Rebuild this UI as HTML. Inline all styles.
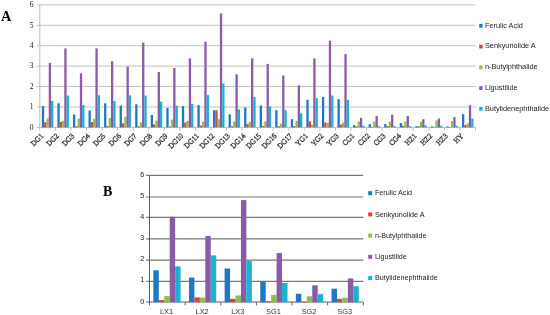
<!DOCTYPE html>
<html><head><meta charset="utf-8"><style>
html,body{margin:0;padding:0;background:#fff;}
body{width:550px;height:315px;overflow:hidden;position:relative;font-family:"Liberation Sans",sans-serif;}
svg{position:absolute;left:0;top:0;}
</style></head><body>
<svg width="550" height="315" viewBox="0 0 550 315" shape-rendering="geometricPrecision">
<rect x="0" y="0" width="550" height="315" fill="#fff"/>
<line x1="36.80" y1="127.40" x2="475.50" y2="127.40" stroke="#bcbcbc" stroke-width="1"/>
<line x1="36.80" y1="106.98" x2="475.50" y2="106.98" stroke="#c2c2c2" stroke-width="1"/>
<line x1="36.80" y1="86.56" x2="475.50" y2="86.56" stroke="#c2c2c2" stroke-width="1"/>
<line x1="36.80" y1="66.14" x2="475.50" y2="66.14" stroke="#c2c2c2" stroke-width="1"/>
<line x1="36.80" y1="45.72" x2="475.50" y2="45.72" stroke="#c2c2c2" stroke-width="1"/>
<line x1="36.80" y1="25.30" x2="475.50" y2="25.30" stroke="#c2c2c2" stroke-width="1"/>
<line x1="36.80" y1="4.88" x2="475.50" y2="4.88" stroke="#c2c2c2" stroke-width="1"/>
<line x1="39.80" y1="4.88" x2="39.80" y2="130.60" stroke="#bcbcbc" stroke-width="1"/>
<line x1="55.36" y1="127.40" x2="55.36" y2="130.60" stroke="#bcbcbc" stroke-width="1"/>
<line x1="70.92" y1="127.40" x2="70.92" y2="130.60" stroke="#bcbcbc" stroke-width="1"/>
<line x1="86.48" y1="127.40" x2="86.48" y2="130.60" stroke="#bcbcbc" stroke-width="1"/>
<line x1="102.04" y1="127.40" x2="102.04" y2="130.60" stroke="#bcbcbc" stroke-width="1"/>
<line x1="117.60" y1="127.40" x2="117.60" y2="130.60" stroke="#bcbcbc" stroke-width="1"/>
<line x1="133.16" y1="127.40" x2="133.16" y2="130.60" stroke="#bcbcbc" stroke-width="1"/>
<line x1="148.72" y1="127.40" x2="148.72" y2="130.60" stroke="#bcbcbc" stroke-width="1"/>
<line x1="164.29" y1="127.40" x2="164.29" y2="130.60" stroke="#bcbcbc" stroke-width="1"/>
<line x1="179.85" y1="127.40" x2="179.85" y2="130.60" stroke="#bcbcbc" stroke-width="1"/>
<line x1="195.41" y1="127.40" x2="195.41" y2="130.60" stroke="#bcbcbc" stroke-width="1"/>
<line x1="210.97" y1="127.40" x2="210.97" y2="130.60" stroke="#bcbcbc" stroke-width="1"/>
<line x1="226.53" y1="127.40" x2="226.53" y2="130.60" stroke="#bcbcbc" stroke-width="1"/>
<line x1="242.09" y1="127.40" x2="242.09" y2="130.60" stroke="#bcbcbc" stroke-width="1"/>
<line x1="257.65" y1="127.40" x2="257.65" y2="130.60" stroke="#bcbcbc" stroke-width="1"/>
<line x1="273.21" y1="127.40" x2="273.21" y2="130.60" stroke="#bcbcbc" stroke-width="1"/>
<line x1="288.77" y1="127.40" x2="288.77" y2="130.60" stroke="#bcbcbc" stroke-width="1"/>
<line x1="304.33" y1="127.40" x2="304.33" y2="130.60" stroke="#bcbcbc" stroke-width="1"/>
<line x1="319.89" y1="127.40" x2="319.89" y2="130.60" stroke="#bcbcbc" stroke-width="1"/>
<line x1="335.45" y1="127.40" x2="335.45" y2="130.60" stroke="#bcbcbc" stroke-width="1"/>
<line x1="351.01" y1="127.40" x2="351.01" y2="130.60" stroke="#bcbcbc" stroke-width="1"/>
<line x1="366.57" y1="127.40" x2="366.57" y2="130.60" stroke="#bcbcbc" stroke-width="1"/>
<line x1="382.14" y1="127.40" x2="382.14" y2="130.60" stroke="#bcbcbc" stroke-width="1"/>
<line x1="397.70" y1="127.40" x2="397.70" y2="130.60" stroke="#bcbcbc" stroke-width="1"/>
<line x1="413.26" y1="127.40" x2="413.26" y2="130.60" stroke="#bcbcbc" stroke-width="1"/>
<line x1="428.82" y1="127.40" x2="428.82" y2="130.60" stroke="#bcbcbc" stroke-width="1"/>
<line x1="444.38" y1="127.40" x2="444.38" y2="130.60" stroke="#bcbcbc" stroke-width="1"/>
<line x1="459.94" y1="127.40" x2="459.94" y2="130.60" stroke="#bcbcbc" stroke-width="1"/>
<line x1="475.50" y1="127.40" x2="475.50" y2="130.60" stroke="#bcbcbc" stroke-width="1"/>
<rect x="41.83" y="106.16" width="2.30" height="21.24" fill="#1f78c2"/>
<rect x="44.13" y="122.30" width="2.30" height="5.11" fill="#e0413b"/>
<rect x="46.43" y="118.42" width="2.30" height="8.98" fill="#8dbf4a"/>
<rect x="48.73" y="62.87" width="2.30" height="64.53" fill="#8a5ca8"/>
<rect x="51.03" y="100.85" width="2.30" height="26.55" fill="#1ab2cf"/>
<rect x="57.39" y="103.30" width="2.30" height="24.10" fill="#1f78c2"/>
<rect x="59.69" y="121.89" width="2.30" height="5.51" fill="#e0413b"/>
<rect x="61.99" y="120.66" width="2.30" height="6.74" fill="#8dbf4a"/>
<rect x="64.29" y="48.37" width="2.30" height="79.03" fill="#8a5ca8"/>
<rect x="66.59" y="95.54" width="2.30" height="31.86" fill="#1ab2cf"/>
<rect x="72.95" y="114.54" width="2.30" height="12.86" fill="#1f78c2"/>
<rect x="75.25" y="126.17" width="2.30" height="1.23" fill="#e0413b"/>
<rect x="77.55" y="118.62" width="2.30" height="8.78" fill="#8dbf4a"/>
<rect x="79.85" y="73.29" width="2.30" height="54.11" fill="#8a5ca8"/>
<rect x="82.15" y="104.94" width="2.30" height="22.46" fill="#1ab2cf"/>
<rect x="88.51" y="110.45" width="2.30" height="16.95" fill="#1f78c2"/>
<rect x="90.81" y="122.09" width="2.30" height="5.31" fill="#e0413b"/>
<rect x="93.11" y="118.62" width="2.30" height="8.78" fill="#8dbf4a"/>
<rect x="95.41" y="48.37" width="2.30" height="79.03" fill="#8a5ca8"/>
<rect x="97.71" y="95.34" width="2.30" height="32.06" fill="#1ab2cf"/>
<rect x="104.07" y="103.30" width="2.30" height="24.10" fill="#1f78c2"/>
<rect x="106.37" y="126.17" width="2.30" height="1.23" fill="#e0413b"/>
<rect x="108.67" y="118.01" width="2.30" height="9.39" fill="#8dbf4a"/>
<rect x="110.97" y="61.24" width="2.30" height="66.16" fill="#8a5ca8"/>
<rect x="113.27" y="101.06" width="2.30" height="26.34" fill="#1ab2cf"/>
<rect x="119.63" y="105.55" width="2.30" height="21.85" fill="#1f78c2"/>
<rect x="121.93" y="123.32" width="2.30" height="4.08" fill="#e0413b"/>
<rect x="124.23" y="116.78" width="2.30" height="10.62" fill="#8dbf4a"/>
<rect x="126.53" y="66.55" width="2.30" height="60.85" fill="#8a5ca8"/>
<rect x="128.83" y="95.34" width="2.30" height="32.06" fill="#1ab2cf"/>
<rect x="135.19" y="104.33" width="2.30" height="23.07" fill="#1f78c2"/>
<rect x="137.49" y="126.38" width="2.30" height="1.02" fill="#e0413b"/>
<rect x="139.79" y="122.50" width="2.30" height="4.90" fill="#8dbf4a"/>
<rect x="142.09" y="42.66" width="2.30" height="84.74" fill="#8a5ca8"/>
<rect x="144.39" y="95.54" width="2.30" height="31.86" fill="#1ab2cf"/>
<rect x="150.76" y="114.94" width="2.30" height="12.46" fill="#1f78c2"/>
<rect x="153.06" y="124.34" width="2.30" height="3.06" fill="#e0413b"/>
<rect x="155.36" y="120.46" width="2.30" height="6.94" fill="#8dbf4a"/>
<rect x="157.66" y="72.06" width="2.30" height="55.34" fill="#8a5ca8"/>
<rect x="159.96" y="101.67" width="2.30" height="25.73" fill="#1ab2cf"/>
<rect x="166.32" y="107.80" width="2.30" height="19.60" fill="#1f78c2"/>
<rect x="168.62" y="126.58" width="2.30" height="0.82" fill="#e0413b"/>
<rect x="170.92" y="119.64" width="2.30" height="7.76" fill="#8dbf4a"/>
<rect x="173.22" y="67.98" width="2.30" height="59.42" fill="#8a5ca8"/>
<rect x="175.52" y="105.55" width="2.30" height="21.85" fill="#1ab2cf"/>
<rect x="181.88" y="106.16" width="2.30" height="21.24" fill="#1f78c2"/>
<rect x="184.18" y="122.50" width="2.30" height="4.90" fill="#e0413b"/>
<rect x="186.48" y="120.87" width="2.30" height="6.53" fill="#8dbf4a"/>
<rect x="188.78" y="58.38" width="2.30" height="69.02" fill="#8a5ca8"/>
<rect x="191.08" y="103.92" width="2.30" height="23.48" fill="#1ab2cf"/>
<rect x="197.44" y="105.14" width="2.30" height="22.26" fill="#1f78c2"/>
<rect x="199.74" y="125.56" width="2.30" height="1.84" fill="#e0413b"/>
<rect x="202.04" y="121.48" width="2.30" height="5.92" fill="#8dbf4a"/>
<rect x="204.34" y="41.64" width="2.30" height="85.76" fill="#8a5ca8"/>
<rect x="206.64" y="95.14" width="2.30" height="32.26" fill="#1ab2cf"/>
<rect x="213.00" y="110.25" width="2.30" height="17.15" fill="#1f78c2"/>
<rect x="215.30" y="110.25" width="2.30" height="17.15" fill="#e0413b"/>
<rect x="217.60" y="119.23" width="2.30" height="8.17" fill="#8dbf4a"/>
<rect x="219.90" y="13.46" width="2.30" height="113.94" fill="#8a5ca8"/>
<rect x="222.20" y="83.50" width="2.30" height="43.90" fill="#1ab2cf"/>
<rect x="228.56" y="114.33" width="2.30" height="13.07" fill="#1f78c2"/>
<rect x="230.86" y="126.17" width="2.30" height="1.23" fill="#e0413b"/>
<rect x="233.16" y="121.48" width="2.30" height="5.92" fill="#8dbf4a"/>
<rect x="235.46" y="74.31" width="2.30" height="53.09" fill="#8a5ca8"/>
<rect x="237.76" y="109.43" width="2.30" height="17.97" fill="#1ab2cf"/>
<rect x="244.12" y="107.59" width="2.30" height="19.81" fill="#1f78c2"/>
<rect x="246.42" y="123.93" width="2.30" height="3.47" fill="#e0413b"/>
<rect x="248.72" y="121.89" width="2.30" height="5.51" fill="#8dbf4a"/>
<rect x="251.02" y="58.38" width="2.30" height="69.02" fill="#8a5ca8"/>
<rect x="253.32" y="96.97" width="2.30" height="30.43" fill="#1ab2cf"/>
<rect x="259.68" y="105.55" width="2.30" height="21.85" fill="#1f78c2"/>
<rect x="261.98" y="126.17" width="2.30" height="1.23" fill="#e0413b"/>
<rect x="264.28" y="121.48" width="2.30" height="5.92" fill="#8dbf4a"/>
<rect x="266.58" y="63.89" width="2.30" height="63.51" fill="#8a5ca8"/>
<rect x="268.88" y="106.37" width="2.30" height="21.03" fill="#1ab2cf"/>
<rect x="275.24" y="110.25" width="2.30" height="17.15" fill="#1f78c2"/>
<rect x="277.54" y="126.17" width="2.30" height="1.23" fill="#e0413b"/>
<rect x="279.84" y="123.72" width="2.30" height="3.68" fill="#8dbf4a"/>
<rect x="282.14" y="75.53" width="2.30" height="51.87" fill="#8a5ca8"/>
<rect x="284.44" y="110.25" width="2.30" height="17.15" fill="#1ab2cf"/>
<rect x="290.80" y="119.23" width="2.30" height="8.17" fill="#1f78c2"/>
<rect x="293.10" y="126.17" width="2.30" height="1.23" fill="#e0413b"/>
<rect x="295.40" y="120.87" width="2.30" height="6.53" fill="#8dbf4a"/>
<rect x="297.70" y="85.33" width="2.30" height="42.07" fill="#8a5ca8"/>
<rect x="300.00" y="113.31" width="2.30" height="14.09" fill="#1ab2cf"/>
<rect x="306.36" y="99.83" width="2.30" height="27.57" fill="#1f78c2"/>
<rect x="308.66" y="121.27" width="2.30" height="6.13" fill="#e0413b"/>
<rect x="310.96" y="124.54" width="2.30" height="2.86" fill="#8dbf4a"/>
<rect x="313.26" y="58.38" width="2.30" height="69.02" fill="#8a5ca8"/>
<rect x="315.56" y="98.20" width="2.30" height="29.20" fill="#1ab2cf"/>
<rect x="321.92" y="96.97" width="2.30" height="30.43" fill="#1f78c2"/>
<rect x="324.22" y="122.50" width="2.30" height="4.90" fill="#e0413b"/>
<rect x="326.52" y="122.91" width="2.30" height="4.49" fill="#8dbf4a"/>
<rect x="328.82" y="40.61" width="2.30" height="86.79" fill="#8a5ca8"/>
<rect x="331.12" y="95.54" width="2.30" height="31.86" fill="#1ab2cf"/>
<rect x="337.48" y="99.22" width="2.30" height="28.18" fill="#1f78c2"/>
<rect x="339.78" y="124.54" width="2.30" height="2.86" fill="#e0413b"/>
<rect x="342.08" y="122.50" width="2.30" height="4.90" fill="#8dbf4a"/>
<rect x="344.38" y="54.09" width="2.30" height="73.31" fill="#8a5ca8"/>
<rect x="346.68" y="99.83" width="2.30" height="27.57" fill="#1ab2cf"/>
<rect x="353.04" y="125.15" width="2.30" height="2.25" fill="#1f78c2"/>
<rect x="355.34" y="126.38" width="2.30" height="1.02" fill="#e0413b"/>
<rect x="357.64" y="121.48" width="2.30" height="5.92" fill="#8dbf4a"/>
<rect x="359.94" y="117.80" width="2.30" height="9.60" fill="#8a5ca8"/>
<rect x="362.24" y="125.77" width="2.30" height="1.63" fill="#1ab2cf"/>
<rect x="368.61" y="124.13" width="2.30" height="3.27" fill="#1f78c2"/>
<rect x="370.91" y="126.99" width="2.30" height="0.41" fill="#e0413b"/>
<rect x="373.21" y="121.48" width="2.30" height="5.92" fill="#8dbf4a"/>
<rect x="375.51" y="115.96" width="2.30" height="11.44" fill="#8a5ca8"/>
<rect x="377.81" y="126.17" width="2.30" height="1.23" fill="#1ab2cf"/>
<rect x="384.17" y="124.13" width="2.30" height="3.27" fill="#1f78c2"/>
<rect x="386.47" y="126.17" width="2.30" height="1.23" fill="#e0413b"/>
<rect x="388.77" y="121.48" width="2.30" height="5.92" fill="#8dbf4a"/>
<rect x="391.07" y="114.74" width="2.30" height="12.66" fill="#8a5ca8"/>
<rect x="393.37" y="126.17" width="2.30" height="1.23" fill="#1ab2cf"/>
<rect x="399.73" y="123.11" width="2.30" height="4.29" fill="#1f78c2"/>
<rect x="402.03" y="125.77" width="2.30" height="1.63" fill="#e0413b"/>
<rect x="404.33" y="121.48" width="2.30" height="5.92" fill="#8dbf4a"/>
<rect x="406.63" y="115.96" width="2.30" height="11.44" fill="#8a5ca8"/>
<rect x="408.93" y="126.17" width="2.30" height="1.23" fill="#1ab2cf"/>
<rect x="415.29" y="126.17" width="2.30" height="1.23" fill="#1f78c2"/>
<rect x="417.59" y="126.38" width="2.30" height="1.02" fill="#e0413b"/>
<rect x="419.89" y="121.68" width="2.30" height="5.72" fill="#8dbf4a"/>
<rect x="422.19" y="119.23" width="2.30" height="8.17" fill="#8a5ca8"/>
<rect x="424.49" y="125.36" width="2.30" height="2.04" fill="#1ab2cf"/>
<rect x="430.85" y="126.38" width="2.30" height="1.02" fill="#1f78c2"/>
<rect x="433.15" y="126.99" width="2.30" height="0.41" fill="#e0413b"/>
<rect x="435.45" y="120.46" width="2.30" height="6.94" fill="#8dbf4a"/>
<rect x="437.75" y="118.62" width="2.30" height="8.78" fill="#8a5ca8"/>
<rect x="440.05" y="125.77" width="2.30" height="1.63" fill="#1ab2cf"/>
<rect x="446.41" y="126.38" width="2.30" height="1.02" fill="#1f78c2"/>
<rect x="448.71" y="126.99" width="2.30" height="0.41" fill="#e0413b"/>
<rect x="451.01" y="121.07" width="2.30" height="6.33" fill="#8dbf4a"/>
<rect x="453.31" y="117.19" width="2.30" height="10.21" fill="#8a5ca8"/>
<rect x="455.61" y="125.77" width="2.30" height="1.63" fill="#1ab2cf"/>
<rect x="461.97" y="114.13" width="2.30" height="13.27" fill="#1f78c2"/>
<rect x="464.27" y="124.95" width="2.30" height="2.45" fill="#e0413b"/>
<rect x="466.57" y="123.32" width="2.30" height="4.08" fill="#8dbf4a"/>
<rect x="468.87" y="105.14" width="2.30" height="22.26" fill="#8a5ca8"/>
<rect x="471.17" y="118.62" width="2.30" height="8.78" fill="#1ab2cf"/>
<rect x="479.20" y="23.90" width="3.40" height="3.80" fill="#1f78c2"/>
<rect x="479.20" y="44.65" width="3.40" height="3.80" fill="#e0413b"/>
<rect x="479.20" y="65.40" width="3.40" height="3.80" fill="#8dbf4a"/>
<rect x="479.20" y="86.15" width="3.40" height="3.80" fill="#8a5ca8"/>
<rect x="479.20" y="106.90" width="3.40" height="3.80" fill="#1ab2cf"/>
<line x1="146.10" y1="302.00" x2="363.30" y2="302.00" stroke="#5e5e5e" stroke-width="1.15"/>
<line x1="146.10" y1="281.30" x2="363.30" y2="281.30" stroke="#787878" stroke-width="1.15"/>
<line x1="146.10" y1="260.10" x2="363.30" y2="260.10" stroke="#787878" stroke-width="1.15"/>
<line x1="146.10" y1="238.90" x2="363.30" y2="238.90" stroke="#787878" stroke-width="1.15"/>
<line x1="146.10" y1="217.40" x2="363.30" y2="217.40" stroke="#787878" stroke-width="1.15"/>
<line x1="146.10" y1="197.00" x2="363.30" y2="197.00" stroke="#787878" stroke-width="1.15"/>
<line x1="146.10" y1="175.40" x2="363.30" y2="175.40" stroke="#787878" stroke-width="1.15"/>
<line x1="149.50" y1="175.60" x2="149.50" y2="305.40" stroke="#5e5e5e" stroke-width="1"/>
<line x1="185.13" y1="302.20" x2="185.13" y2="305.40" stroke="#5e5e5e" stroke-width="1"/>
<line x1="220.77" y1="302.20" x2="220.77" y2="305.40" stroke="#5e5e5e" stroke-width="1"/>
<line x1="256.40" y1="302.20" x2="256.40" y2="305.40" stroke="#5e5e5e" stroke-width="1"/>
<line x1="292.03" y1="302.20" x2="292.03" y2="305.40" stroke="#5e5e5e" stroke-width="1"/>
<line x1="327.67" y1="302.20" x2="327.67" y2="305.40" stroke="#5e5e5e" stroke-width="1"/>
<line x1="363.30" y1="302.20" x2="363.30" y2="305.40" stroke="#5e5e5e" stroke-width="1"/>
<rect x="153.34" y="270.34" width="5.45" height="31.86" fill="#1f78c2"/>
<rect x="158.79" y="300.09" width="5.45" height="2.11" fill="#e0413b"/>
<rect x="164.24" y="296.08" width="5.45" height="6.12" fill="#8dbf4a"/>
<rect x="169.69" y="216.75" width="5.45" height="85.45" fill="#8a5ca8"/>
<rect x="175.14" y="266.33" width="5.45" height="35.87" fill="#1ab2cf"/>
<rect x="188.97" y="277.51" width="5.45" height="24.69" fill="#1f78c2"/>
<rect x="194.42" y="297.35" width="5.45" height="4.85" fill="#e0413b"/>
<rect x="199.88" y="297.56" width="5.45" height="4.64" fill="#8dbf4a"/>
<rect x="205.32" y="235.95" width="5.45" height="66.25" fill="#8a5ca8"/>
<rect x="210.78" y="255.36" width="5.45" height="46.84" fill="#1ab2cf"/>
<rect x="224.61" y="268.44" width="5.45" height="33.76" fill="#1f78c2"/>
<rect x="230.06" y="298.82" width="5.45" height="3.38" fill="#e0413b"/>
<rect x="235.51" y="295.45" width="5.45" height="6.75" fill="#8dbf4a"/>
<rect x="240.96" y="200.08" width="5.45" height="102.12" fill="#8a5ca8"/>
<rect x="246.41" y="260.84" width="5.45" height="41.36" fill="#1ab2cf"/>
<rect x="260.24" y="281.31" width="5.45" height="20.89" fill="#1f78c2"/>
<rect x="265.69" y="301.36" width="5.45" height="0.84" fill="#e0413b"/>
<rect x="271.14" y="294.81" width="5.45" height="7.38" fill="#8dbf4a"/>
<rect x="276.59" y="253.04" width="5.45" height="49.16" fill="#8a5ca8"/>
<rect x="282.04" y="283.00" width="5.45" height="19.20" fill="#1ab2cf"/>
<rect x="295.88" y="293.76" width="5.45" height="8.44" fill="#1f78c2"/>
<rect x="301.32" y="301.57" width="5.45" height="0.63" fill="#e0413b"/>
<rect x="306.77" y="296.29" width="5.45" height="5.91" fill="#8dbf4a"/>
<rect x="312.23" y="285.32" width="5.45" height="16.88" fill="#8a5ca8"/>
<rect x="317.68" y="294.18" width="5.45" height="8.02" fill="#1ab2cf"/>
<rect x="331.51" y="288.70" width="5.45" height="13.50" fill="#1f78c2"/>
<rect x="336.96" y="298.82" width="5.45" height="3.38" fill="#e0413b"/>
<rect x="342.41" y="297.77" width="5.45" height="4.43" fill="#8dbf4a"/>
<rect x="347.86" y="278.36" width="5.45" height="23.84" fill="#8a5ca8"/>
<rect x="353.31" y="286.16" width="5.45" height="16.04" fill="#1ab2cf"/>
<rect x="368.20" y="191.20" width="4.00" height="4.00" fill="#1f78c2"/>
<rect x="368.20" y="212.40" width="4.00" height="4.00" fill="#e0413b"/>
<rect x="368.20" y="233.60" width="4.00" height="4.00" fill="#8dbf4a"/>
<rect x="368.20" y="254.80" width="4.00" height="4.00" fill="#8a5ca8"/>
<rect x="368.20" y="276.00" width="4.00" height="4.00" fill="#1ab2cf"/>
<g style="filter:grayscale(1)">
<text x="33.60" y="129.70" font-family="Liberation Serif" font-size="7.6" fill="#1a1a1a" text-anchor="end" >0</text>
<text x="33.60" y="109.28" font-family="Liberation Serif" font-size="7.6" fill="#1a1a1a" text-anchor="end" >1</text>
<text x="33.60" y="88.86" font-family="Liberation Serif" font-size="7.6" fill="#1a1a1a" text-anchor="end" >2</text>
<text x="33.60" y="68.44" font-family="Liberation Serif" font-size="7.6" fill="#1a1a1a" text-anchor="end" >3</text>
<text x="33.60" y="48.02" font-family="Liberation Serif" font-size="7.6" fill="#1a1a1a" text-anchor="end" >4</text>
<text x="33.60" y="27.60" font-family="Liberation Serif" font-size="7.6" fill="#1a1a1a" text-anchor="end" >5</text>
<text x="33.60" y="7.18" font-family="Liberation Serif" font-size="7.6" fill="#1a1a1a" text-anchor="end" >6</text>
<text x="0" y="0" font-family="Liberation Serif" font-size="7.2" fill="#ffffff" stroke="#222" stroke-width="0.42" text-anchor="end" transform="translate(43.68,136.50) rotate(-45) scale(1,1.05)">DG1</text>
<text x="0" y="0" font-family="Liberation Serif" font-size="7.2" fill="#ffffff" stroke="#222" stroke-width="0.42" text-anchor="end" transform="translate(59.24,136.50) rotate(-45) scale(1,1.05)">DG2</text>
<text x="0" y="0" font-family="Liberation Serif" font-size="7.2" fill="#ffffff" stroke="#222" stroke-width="0.42" text-anchor="end" transform="translate(74.80,136.50) rotate(-45) scale(1,1.05)">DG3</text>
<text x="0" y="0" font-family="Liberation Serif" font-size="7.2" fill="#ffffff" stroke="#222" stroke-width="0.42" text-anchor="end" transform="translate(90.36,136.50) rotate(-45) scale(1,1.05)">DG4</text>
<text x="0" y="0" font-family="Liberation Serif" font-size="7.2" fill="#ffffff" stroke="#222" stroke-width="0.42" text-anchor="end" transform="translate(105.92,136.50) rotate(-45) scale(1,1.05)">DG5</text>
<text x="0" y="0" font-family="Liberation Serif" font-size="7.2" fill="#ffffff" stroke="#222" stroke-width="0.42" text-anchor="end" transform="translate(121.48,136.50) rotate(-45) scale(1,1.05)">DG6</text>
<text x="0" y="0" font-family="Liberation Serif" font-size="7.2" fill="#ffffff" stroke="#222" stroke-width="0.42" text-anchor="end" transform="translate(137.04,136.50) rotate(-45) scale(1,1.05)">DG7</text>
<text x="0" y="0" font-family="Liberation Serif" font-size="7.2" fill="#ffffff" stroke="#222" stroke-width="0.42" text-anchor="end" transform="translate(152.61,136.50) rotate(-45) scale(1,1.05)">DG8</text>
<text x="0" y="0" font-family="Liberation Serif" font-size="7.2" fill="#ffffff" stroke="#222" stroke-width="0.42" text-anchor="end" transform="translate(168.17,136.50) rotate(-45) scale(1,1.05)">DG9</text>
<text x="0" y="0" font-family="Liberation Serif" font-size="7.2" fill="#ffffff" stroke="#222" stroke-width="0.42" text-anchor="end" transform="translate(183.73,136.50) rotate(-45) scale(1,1.05)">DG10</text>
<text x="0" y="0" font-family="Liberation Serif" font-size="7.2" fill="#ffffff" stroke="#222" stroke-width="0.42" text-anchor="end" transform="translate(199.29,136.50) rotate(-45) scale(1,1.05)">DG11</text>
<text x="0" y="0" font-family="Liberation Serif" font-size="7.2" fill="#ffffff" stroke="#222" stroke-width="0.42" text-anchor="end" transform="translate(214.85,136.50) rotate(-45) scale(1,1.05)">DG12</text>
<text x="0" y="0" font-family="Liberation Serif" font-size="7.2" fill="#ffffff" stroke="#222" stroke-width="0.42" text-anchor="end" transform="translate(230.41,136.50) rotate(-45) scale(1,1.05)">DG13</text>
<text x="0" y="0" font-family="Liberation Serif" font-size="7.2" fill="#ffffff" stroke="#222" stroke-width="0.42" text-anchor="end" transform="translate(245.97,136.50) rotate(-45) scale(1,1.05)">DG14</text>
<text x="0" y="0" font-family="Liberation Serif" font-size="7.2" fill="#ffffff" stroke="#222" stroke-width="0.42" text-anchor="end" transform="translate(261.53,136.50) rotate(-45) scale(1,1.05)">DG15</text>
<text x="0" y="0" font-family="Liberation Serif" font-size="7.2" fill="#ffffff" stroke="#222" stroke-width="0.42" text-anchor="end" transform="translate(277.09,136.50) rotate(-45) scale(1,1.05)">DG16</text>
<text x="0" y="0" font-family="Liberation Serif" font-size="7.2" fill="#ffffff" stroke="#222" stroke-width="0.42" text-anchor="end" transform="translate(292.65,136.50) rotate(-45) scale(1,1.05)">DG17</text>
<text x="0" y="0" font-family="Liberation Serif" font-size="7.2" fill="#ffffff" stroke="#222" stroke-width="0.42" text-anchor="end" transform="translate(308.21,136.50) rotate(-45) scale(1,1.05)">YG1</text>
<text x="0" y="0" font-family="Liberation Serif" font-size="7.2" fill="#ffffff" stroke="#222" stroke-width="0.42" text-anchor="end" transform="translate(323.77,136.50) rotate(-45) scale(1,1.05)">YG2</text>
<text x="0" y="0" font-family="Liberation Serif" font-size="7.2" fill="#ffffff" stroke="#222" stroke-width="0.42" text-anchor="end" transform="translate(339.33,136.50) rotate(-45) scale(1,1.05)">YG3</text>
<text x="0" y="0" font-family="Liberation Serif" font-size="7.2" fill="#ffffff" stroke="#222" stroke-width="0.42" text-anchor="end" transform="translate(354.89,136.50) rotate(-45) scale(1,1.05)">CG1</text>
<text x="0" y="0" font-family="Liberation Serif" font-size="7.2" fill="#ffffff" stroke="#222" stroke-width="0.42" text-anchor="end" transform="translate(370.46,136.50) rotate(-45) scale(1,1.05)">CG2</text>
<text x="0" y="0" font-family="Liberation Serif" font-size="7.2" fill="#ffffff" stroke="#222" stroke-width="0.42" text-anchor="end" transform="translate(386.02,136.50) rotate(-45) scale(1,1.05)">CG3</text>
<text x="0" y="0" font-family="Liberation Serif" font-size="7.2" fill="#ffffff" stroke="#222" stroke-width="0.42" text-anchor="end" transform="translate(401.58,136.50) rotate(-45) scale(1,1.05)">CG4</text>
<text x="0" y="0" font-family="Liberation Serif" font-size="7.2" fill="#ffffff" stroke="#222" stroke-width="0.42" text-anchor="end" transform="translate(417.14,136.50) rotate(-45) scale(1,1.05)">HZ1</text>
<text x="0" y="0" font-family="Liberation Serif" font-size="7.2" fill="#ffffff" stroke="#222" stroke-width="0.42" text-anchor="end" transform="translate(432.70,136.50) rotate(-45) scale(1,1.05)">HZ2</text>
<text x="0" y="0" font-family="Liberation Serif" font-size="7.2" fill="#ffffff" stroke="#222" stroke-width="0.42" text-anchor="end" transform="translate(448.26,136.50) rotate(-45) scale(1,1.05)">HZ3</text>
<text x="0" y="0" font-family="Liberation Serif" font-size="7.2" fill="#ffffff" stroke="#222" stroke-width="0.42" text-anchor="end" transform="translate(463.82,136.50) rotate(-45) scale(1,1.05)">HY</text>
<text x="484.90" y="27.70" font-family="Liberation Sans" font-size="7.37" fill="#222" text-anchor="start" >Ferulic Acid</text>
<text x="484.90" y="48.45" font-family="Liberation Sans" font-size="7.37" fill="#222" text-anchor="start" >Senkyunolide A</text>
<text x="484.90" y="69.20" font-family="Liberation Sans" font-size="7.37" fill="#222" text-anchor="start" >n-Butylphthalide</text>
<text x="484.90" y="89.95" font-family="Liberation Sans" font-size="7.37" fill="#222" text-anchor="start" >Ligustilide</text>
<text x="484.90" y="110.70" font-family="Liberation Sans" font-size="7.37" fill="#222" text-anchor="start" >Butylidenephthalide</text>
<text x="1.00" y="20.50" font-family="Liberation Serif" font-size="14.3" fill="#000" text-anchor="start" font-weight="bold">A</text>
<text x="144.20" y="303.50" font-family="Liberation Sans" font-size="7.2" fill="#222" text-anchor="end" >0</text>
<text x="144.20" y="282.40" font-family="Liberation Sans" font-size="7.2" fill="#222" text-anchor="end" >1</text>
<text x="144.20" y="261.30" font-family="Liberation Sans" font-size="7.2" fill="#222" text-anchor="end" >2</text>
<text x="144.20" y="240.20" font-family="Liberation Sans" font-size="7.2" fill="#222" text-anchor="end" >3</text>
<text x="144.20" y="219.10" font-family="Liberation Sans" font-size="7.2" fill="#222" text-anchor="end" >4</text>
<text x="144.20" y="198.00" font-family="Liberation Sans" font-size="7.2" fill="#222" text-anchor="end" >5</text>
<text x="144.20" y="176.90" font-family="Liberation Sans" font-size="7.2" fill="#222" text-anchor="end" >6</text>
<text x="166.52" y="313.60" font-family="Liberation Sans" font-size="7.4" fill="#333" text-anchor="middle" >LX1</text>
<text x="202.15" y="313.60" font-family="Liberation Sans" font-size="7.4" fill="#333" text-anchor="middle" >LX2</text>
<text x="237.78" y="313.60" font-family="Liberation Sans" font-size="7.4" fill="#333" text-anchor="middle" >LX3</text>
<text x="273.42" y="313.60" font-family="Liberation Sans" font-size="7.4" fill="#333" text-anchor="middle" >SG1</text>
<text x="309.05" y="313.60" font-family="Liberation Sans" font-size="7.4" fill="#333" text-anchor="middle" >SG2</text>
<text x="344.68" y="313.60" font-family="Liberation Sans" font-size="7.4" fill="#333" text-anchor="middle" >SG3</text>
<text x="374.90" y="195.30" font-family="Liberation Sans" font-size="7.2" fill="#222" text-anchor="start" >Ferulic Acid</text>
<text x="374.90" y="216.50" font-family="Liberation Sans" font-size="7.2" fill="#222" text-anchor="start" >Senkyunolide A</text>
<text x="374.90" y="237.70" font-family="Liberation Sans" font-size="7.2" fill="#222" text-anchor="start" >n-Butylphthalide</text>
<text x="374.90" y="258.90" font-family="Liberation Sans" font-size="7.2" fill="#222" text-anchor="start" >Ligustilide</text>
<text x="374.90" y="280.10" font-family="Liberation Sans" font-size="7.2" fill="#222" text-anchor="start" >Butylidenephthalide</text>
<text x="103.00" y="195.50" font-family="Liberation Serif" font-size="14.0" fill="#000" text-anchor="start" font-weight="bold">B</text>
</g>
</svg>
</body></html>
